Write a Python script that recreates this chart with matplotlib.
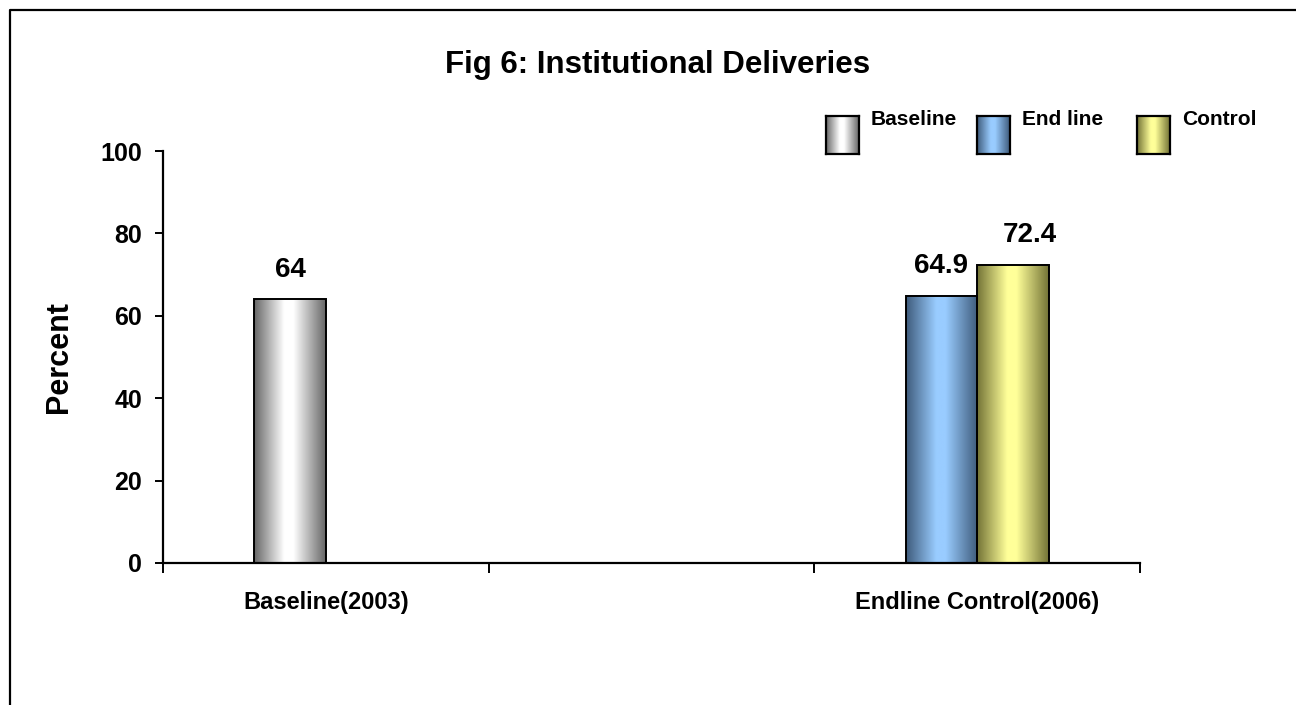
import numpy as np
import matplotlib.pyplot as plt
from matplotlib.colors import LinearSegmentedColormap
from matplotlib.lines import Line2D

plt.rcParams['font.family'] = ['Liberation Sans', 'DejaVu Sans']
plt.rcParams['font.weight'] = 'bold'

categories = ["Baseline(2003)", "", "Endline Control(2006)"]
series_names = ["Baseline", "End line", "Control"]
baseline = [64, np.nan, np.nan]
endline = [np.nan, np.nan, 64.9]
control = [np.nan, np.nan, 72.4]
yticks = [0, 20, 40, 60, 80, 100]

# edge and centre colour of each series' cylinder shading
shades = {
    "Baseline": ("#666666", "#ffffff"),
    "End line": ("#3e5b7b", "#99ccff"),
    "Control": ("#737336", "#ffff99"),
}

grad = np.linspace(0, 1, 256).reshape(1, -1)


def shade_cmap(edge, mid):
    return LinearSegmentedColormap.from_list(
        "shade", [(0, edge), (0.42, mid), (0.55, mid), (1, edge)])


W, H = 1296, 705
fig = plt.figure(figsize=(W / 100, H / 100), dpi=100)

ax = fig.add_axes([163 / W, 1 - 563 / H, (1140 - 163) / W, (563 - 151) / H])

x = np.arange(len(categories))
w = 0.22
# baseline and end line share the left slot, control takes the right one
slots = {"Baseline": -w / 2, "End line": -w / 2, "Control": w / 2}
label_dx = {"Baseline": 0, "End line": 0, "Control": 12}

for name, vals in zip(series_names, [baseline, endline, control]):
    edge, mid = shades[name]
    for xi, v in zip(x, vals):
        if np.isnan(v):
            continue
        xc = xi + slots[name]
        ax.bar(xc, v, w, facecolor='none', edgecolor='black', linewidth=1.4, zorder=3)
        ax.imshow(grad, cmap=shade_cmap(edge, mid), aspect='auto',
                  extent=(xc - w / 2, xc + w / 2, 0, v), zorder=2)
        ax.annotate(f"{v:g}", (xc, v), xytext=(label_dx[name], 12),
                    textcoords='offset points', ha='center', va='bottom',
                    fontsize=20, fontweight='bold')

ax.set_xlim(-0.5, len(categories) - 0.5)
ax.set_ylim(0, 100)
ax.spines[['top', 'right']].set_visible(False)
for s in ['left', 'bottom']:
    ax.spines[s].set_linewidth(1.6)

ax.set_yticks(yticks)
ax.tick_params(axis='y', direction='out', length=6, width=1.4, pad=9, labelsize=18)
ax.set_xticks(x)
ax.set_xticklabels(categories, fontsize=17, fontweight='bold')
ax.set_xticks(np.arange(len(categories) + 1) - 0.5, minor=True)
ax.tick_params(axis='x', which='major', length=0, pad=20)
ax.tick_params(axis='x', which='minor', direction='out', length=7, width=1.4)
ax.set_ylabel("Percent", fontsize=22, fontweight='bold', labelpad=19)

fig.text(658 / W, 1 - 65 / H, "Fig 6: Institutional Deliveries",
         ha='center', va='center', fontsize=22.5, fontweight='bold')

# legend swatches along the top right
leg_x = [826, 977, 1137]
for name, lx in zip(series_names, leg_x):
    edge, mid = shades[name]
    sw = fig.add_axes([lx / W, 1 - 154 / H, 33 / W, 38 / H])
    sw.imshow(grad, cmap=shade_cmap(edge, mid), aspect='auto')
    sw.set_xticks([])
    sw.set_yticks([])
    for s in sw.spines.values():
        s.set_linewidth(1.6)
    fig.text((lx + 45) / W, 1 - 110 / H, name, ha='left', va='top',
             fontsize=15, fontweight='bold')

# frame round the chart area
fig.add_artist(Line2D([10 / W, 10 / W, 1.01], [0, 1 - 10 / H, 1 - 10 / H],
                      transform=fig.transFigure, color='black', linewidth=1.6))

fig.savefig("out.png", dpi=100)
